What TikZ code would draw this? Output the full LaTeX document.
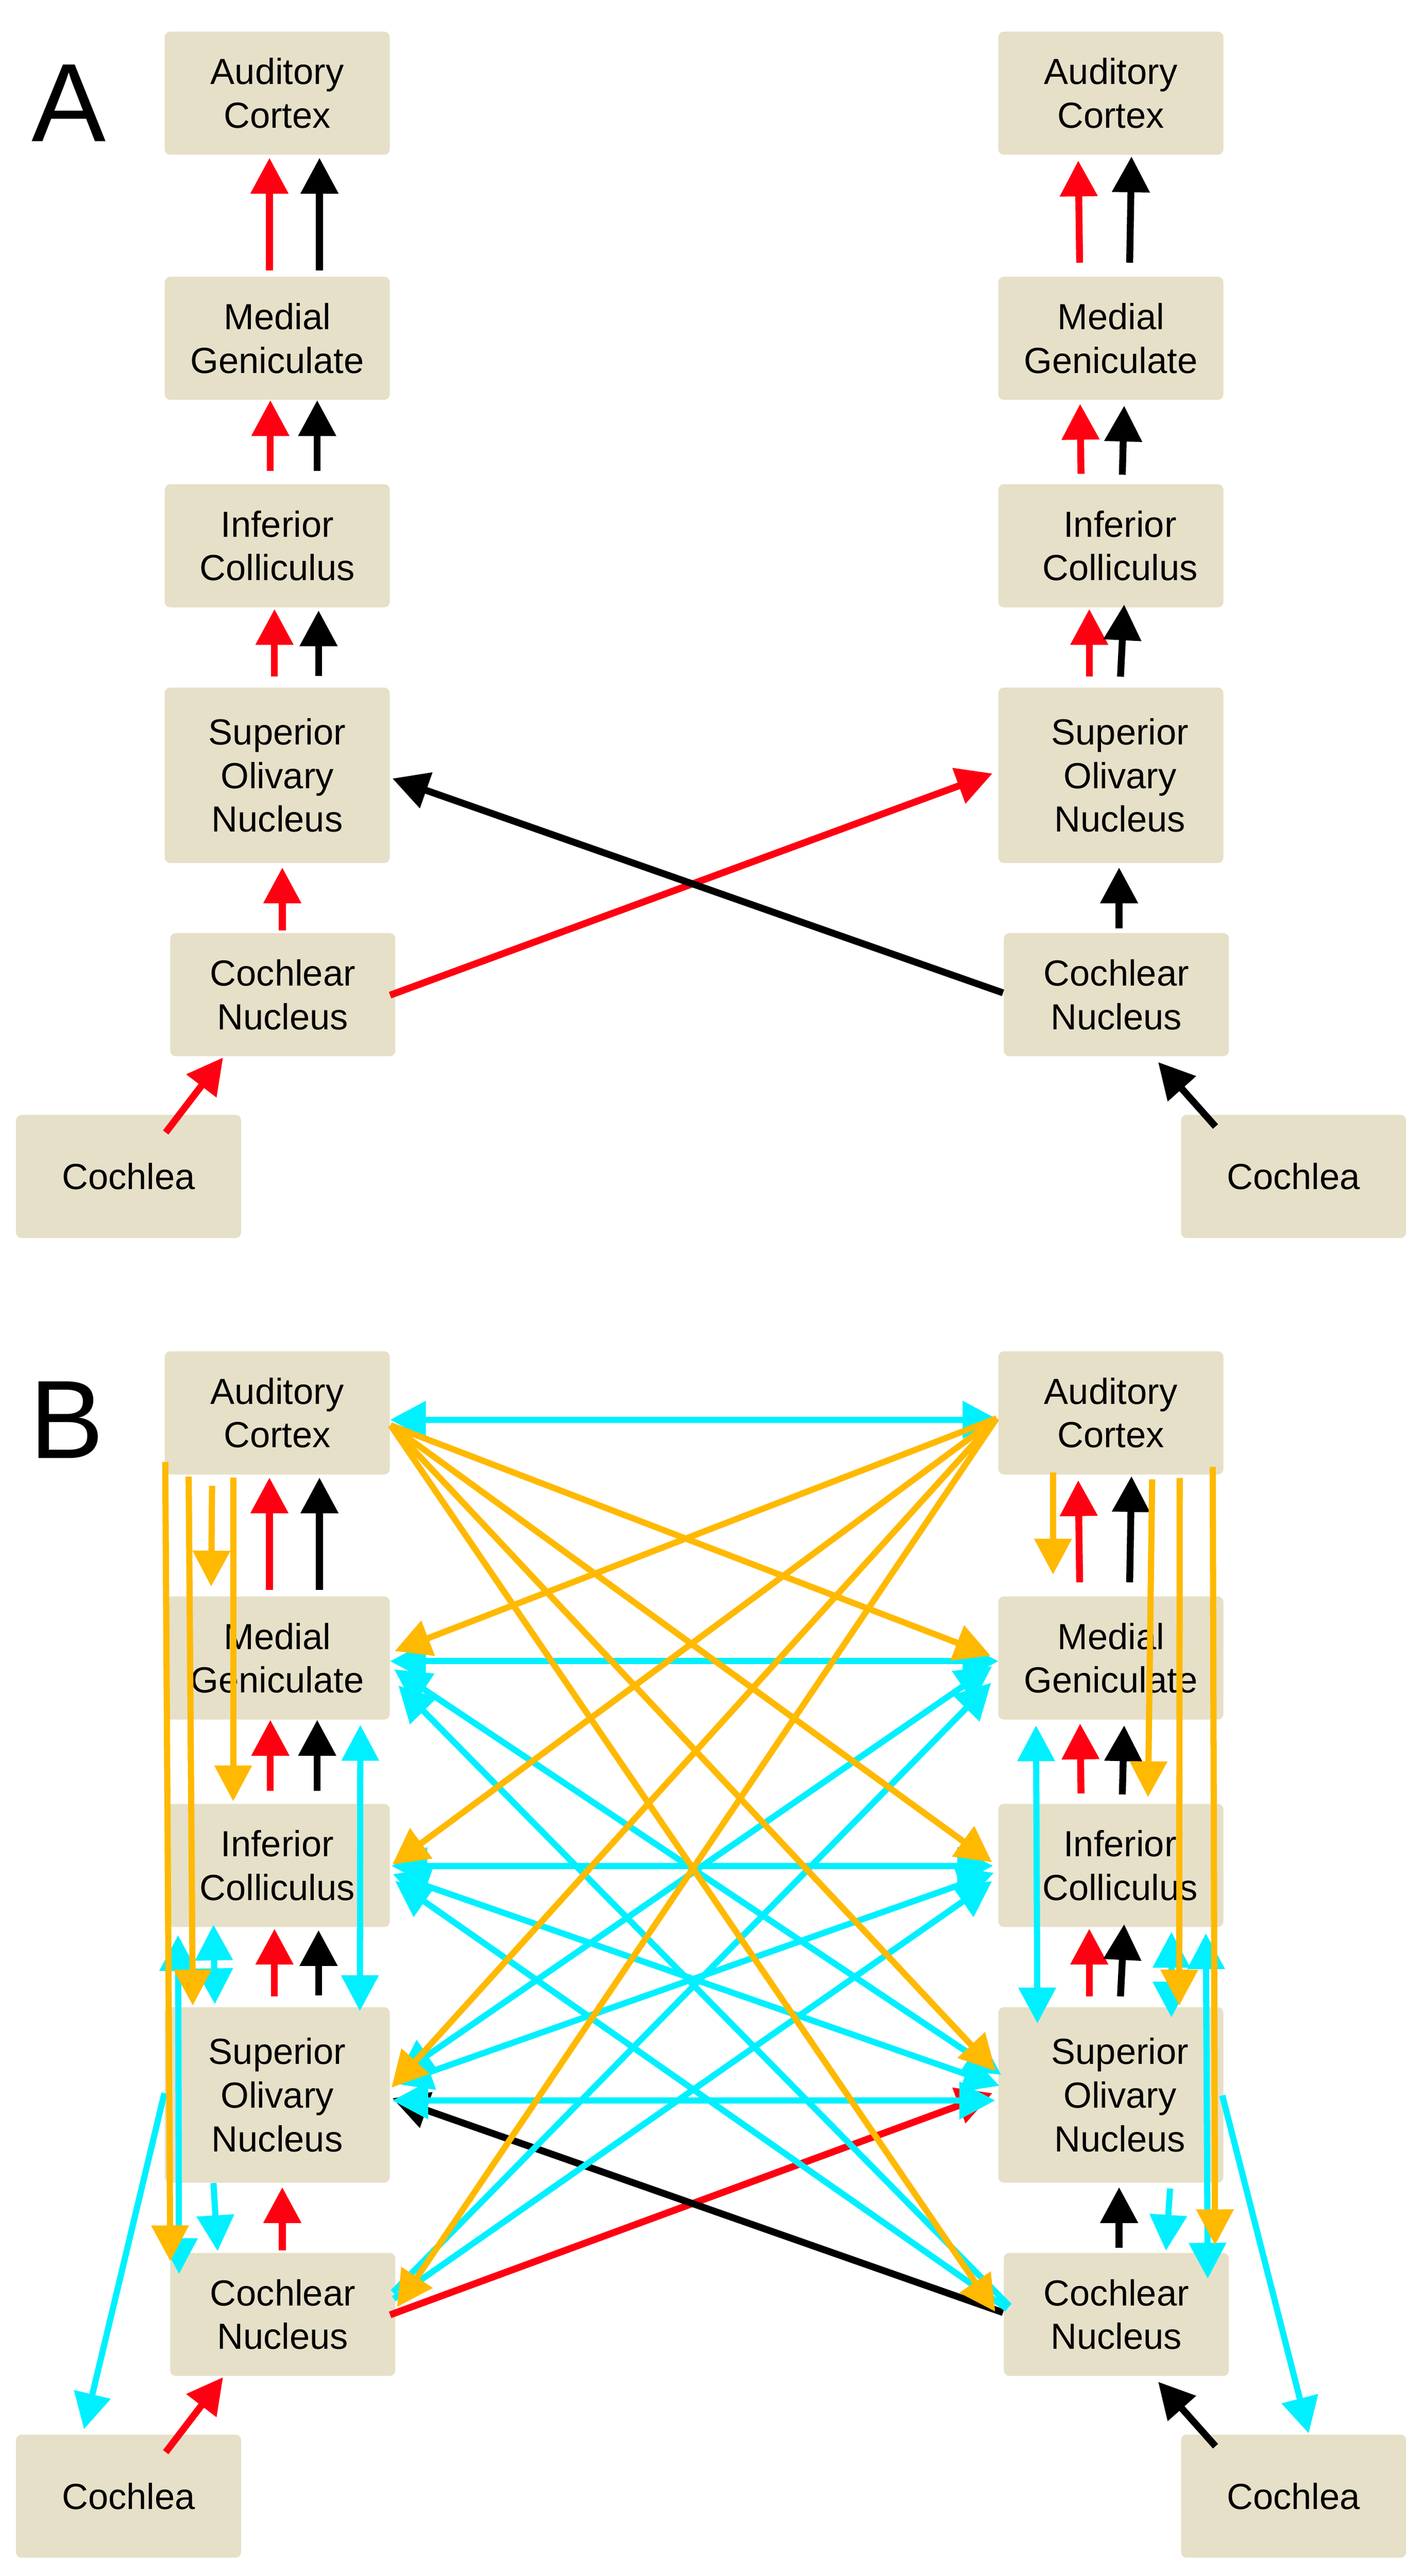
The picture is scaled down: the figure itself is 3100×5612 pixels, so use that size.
\documentclass[tikz,border=0pt]{standalone}
\usepackage{fontspec}
\setmainfont{Liberation Sans}
\usetikzlibrary{arrows.meta,calc}
\definecolor{boxc}{HTML}{E6E0C8}
\definecolor{orng}{HTML}{FFB900}
\definecolor{cyn}{HTML}{00F0FF}
\definecolor{rd}{HTML}{FF0012}
\newcommand\boxfont{\fontsize{22.5}{27}\selectfont}
\newcommand\panelfont{\fontsize{69}{80}\selectfont}
\tikzset{
  >={Triangle[width=0.79cm,length=0.78cm]},
  nbox/.style={fill=boxc, rounded corners=0.12cm, minimum width=4.9cm, minimum height=2.68cm, inner sep=0pt, align=center, font=\boxfont},
  tbox/.style={nbox, minimum height=3.82cm},
  rarr/.style={line width=0.15cm, draw=rd, ->},
  karr/.style={line width=0.15cm, draw=black, ->},
  oarr/.style={line width=0.135cm, draw=orng, ->},
  carr/.style={line width=0.135cm, draw=cyn, ->},
  cdbl/.style={line width=0.135cm, draw=cyn, <->},
  plab/.style={font=\panelfont, anchor=base, inner sep=0pt},
}
% #1 = name prefix, #2 = vertical offset (px)
\newcommand\skel[2]{%
  \node[nbox] (#1LAC) at (604,3078-#2) {Auditory\\Cortex};
  \node[nbox] (#1LMG) at (604,3612-#2) {Medial\\Geniculate};
  \node[nbox] (#1LIC) at (604,4064-#2) {Inferior\\Colliculus};
  \node[tbox] (#1LSON) at (604,4564-#2) {Superior\\Olivary\\Nucleus};
  \node[nbox] (#1LCN) at (616,5042-#2) {Cochlear\\Nucleus};
  \node[nbox] (#1LCo) at (280,5438-#2) {Cochlea};
  \node[nbox] (#1RAC) at (2420,3078-#2) {Auditory\\Cortex};
  \node[nbox] (#1RMG) at (2420,3612-#2) {Medial\\Geniculate};
  \node[nbox] (#1RIC) at (2420,4064-#2) {\hspace*{0.4cm}Inferior\\\hspace*{0.4cm}Colliculus};
  \node[tbox] (#1RSON) at (2420,4564-#2) {\hspace*{0.4cm}Superior\\\hspace*{0.4cm}Olivary\\\hspace*{0.4cm}Nucleus};
  \node[nbox] (#1RCN) at (2432,5042-#2) {Cochlear\\Nucleus};
  \node[nbox] (#1RCo) at (2818,5438-#2) {Cochlea};
  % left ascending
  \draw[rarr] ($(#1LMG.north)+(-17,-13)$) -- ($(#1LAC.south)+(-17,6)$);
  \draw[karr] ($(#1LMG.north)+(92,-13)$) -- ($(#1LAC.south)+(92,6)$);
  \draw[rarr] ($(#1LIC.north)+(-15,-28)$) -- ($(#1LMG.south)+(-15,0)$);
  \draw[karr] ($(#1LIC.north)+(87,-28)$) -- ($(#1LMG.south)+(87,0)$);
  \draw[rarr] ($(#1LSON.north)+(-6,-23)$) -- ($(#1LIC.south)+(-6,3)$);
  \draw[karr] ($(#1LSON.north)+(90,-25)$) -- ($(#1LIC.south)+(90,6)$);
  \draw[rarr] ($(#1LCN.north)+(-1,-5)$) -- ($(#1LSON.south)+(11,9)$);
  \draw[rarr] ($(#1LCo.north)+(81,39)$) -- ($(#1LCN.south)+(-130,2)$);
  \draw[rarr] ($(#1LCN.east)+(-12,1)$) -- ($(#1RSON.west)+(-12,-4)$);
  % right ascending
  \draw[rarr] ($(#1RMG.north)+(-68,-30)$) -- ($(#1RAC.south)+(-71,12)$);
  \draw[karr] ($(#1RMG.north)+(41,-30)$) -- ($(#1RAC.south)+(45,3)$);
  \draw[rarr] ($(#1RIC.north)+(-65,-22)$) -- ($(#1RMG.south)+(-67,8)$);
  \draw[karr] ($(#1RIC.north)+(25,-20)$) -- ($(#1RMG.south)+(29,12)$);
  \draw[rarr] ($(#1RSON.north)+(-47,-23)$) -- ($(#1RIC.south)+(-47,3)$);
  \draw[karr] ($(#1RSON.north)+(21,-23)$) -- ($(#1RIC.south)+(29,-7)$);
  \draw[karr] ($(#1RCN.north)+(6,-10)$) -- ($(#1RSON.south)+(18,9)$);
  \draw[karr] ($(#1RCo.north)+(-170,26)$) -- ($(#1RCN.south)+(91,12)$);
  \draw[karr] ($(#1RCN.west)+(-1,-4)$) -- ($(#1LSON.east)+(5,7)$);
}
\begin{document}
\begin{tikzpicture}[x=0.01cm, y=-0.01cm]
  \fill[white] (0,0) rectangle (3100,5612);
  \useasboundingbox (0,0) rectangle (3100,5612);
  \node[plab] (labA) at (150,308) {A};
  \node[plab] (labB) at (145,3177) {B};
  \skel{A}{2875}
  \skel{B}{0}
  % ---------- panel B: cyan ----------
  % horizontals
  \draw[cdbl] ($(BLAC.east)+(0,15)$) -- ($(BRAC.west)+(1,15)$);
  \draw[cdbl] ($(BLMG.east)+(0,7)$) -- ($(BRMG.west)+(1,7)$);
  \draw[cdbl] ($(BLIC.east)+(3,1)$) -- ($(BRIC.west)+(-11,1)$);
  \draw[cdbl] ($(BLSON.east)+(5,12)$) -- ($(BRSON.west)+(-6,12)$);
  % diagonals
  \draw[cdbl] ($(BLMG.east)+(9,25)$) -- ($(BRSON.west)+(7,-44)$);
  \draw[carr] ($(BRCN.west)+(13,-18)$) -- ($(BLMG.east)+(18,60)$);
  \draw[cdbl] ($(BLIC.east)+(6,19)$) -- ($(BRSON.west)+(3,-20)$);
  \draw[carr] ($(BRCN.west)+(8,-12)$) -- ($(BLIC.east)+(11,34)$);
  \draw[cdbl] ($(BRMG.west)+(-13,18)$) -- ($(BLSON.east)+(17,-42)$);
  \draw[carr] ($(BLCN.east)+(-6,-48)$) -- ($(BRMG.west)+(-15,54)$);
  \draw[cdbl] ($(BRIC.west)+(-9,16)$) -- ($(BLSON.east)+(13,-24)$);
  \draw[carr] ($(BLCN.east)+(-4,-34)$) -- ($(BRIC.west)+(-13,34)$);
  % left verticals
  \draw[cdbl] ($(BLMG.south)+(181,11)$) -- ($(BLSON.north)+(180,9)$);
  \draw[cdbl] ($(BLIC.south)+(-216,17)$) -- ($(BLCN.north)+(-226,47)$);
  \draw[cdbl] ($(BLIC.south)+(-139,-6)$) -- ($(BLSON.north)+(-136,-6)$);
  \draw[carr] ($(BLSON.south)+(-139,0)$) -- ($(BLCN.north)+(-142,-3)$);
  \draw[carr] ($(BLSON.west)+(0,-4)$) -- ($(BLCo.north)+(-97,-11)$);
  % right verticals
  \draw[cdbl] ($(BRMG.south)+(-163,12)$) -- ($(BRSON.north)+(-160,36)$);
  \draw[cdbl] ($(BRIC.south)+(132,10)$) -- ($(BRSON.north)+(132,23)$);
  \draw[cdbl] ($(BRIC.south)+(207,13)$) -- ($(BRCN.north)+(199,57)$);
  \draw[carr] ($(BRSON.south)+(129,12)$) -- ($(BRCN.north)+(108,-4)$);
  \draw[carr] ($(BRSON.east)+(-3,1)$) -- ($(BRCo.north)+(33,-2)$);
  % ---------- panel B: orange ----------
  \draw[oarr] ($(BLAC.south)+(-244,-28)$) -- ($(BLCN.north)+(-245,19)$);
  \draw[oarr] ($(BLAC.south)+(-193,4)$) -- ($(BLSON.north)+(-184,-3)$);
  \draw[oarr] ($(BLAC.south)+(-142,24)$) -- ($(BLMG.north)+(-144,-21)$);
  \draw[oarr] ($(BLAC.south)+(-96,6)$) -- ($(BLIC.north)+(-96,-5)$);
  \draw[oarr] ($(BRAC.south)+(-126,-5)$) -- ($(BRMG.north)+(-126,-47)$);
  \draw[oarr] ($(BRAC.south)+(90,10)$) -- ($(BRIC.north)+(81,-14)$);
  \draw[oarr] ($(BRAC.south)+(150,7)$) -- ($(BRSON.north)+(149,-3)$);
  \draw[oarr] ($(BRAC.south)+(222,-17)$) -- ($(BRCN.north)+(215,-16)$);
  \draw[oarr] ($(BLAC.east)+(1,27)$) -- ($(BRMG.west)+(-16,-5)$);
  \draw[oarr] ($(BLAC.east)+(1,27)$) -- ($(BRIC.west)+(-13,-7)$);
  \draw[oarr] ($(BLAC.east)+(1,27)$) -- ($(BRSON.west)+(-5,-52)$);
  \draw[oarr] ($(BLAC.east)+(1,27)$) -- ($(BRCN.west)+(-18,-6)$);
  \draw[oarr] ($(BRAC.west)+(-3,12)$) -- ($(BLMG.east)+(10,-15)$);
  \draw[oarr] ($(BRAC.west)+(-3,12)$) -- ($(BLIC.east)+(5,-2)$);
  \draw[oarr] ($(BRAC.west)+(-3,12)$) -- ($(BLSON.east)+(3,-16)$);
  \draw[oarr] ($(BRAC.west)+(-3,12)$) -- ($(BLCN.east)+(3,-16)$);
\end{tikzpicture}
\end{document}
